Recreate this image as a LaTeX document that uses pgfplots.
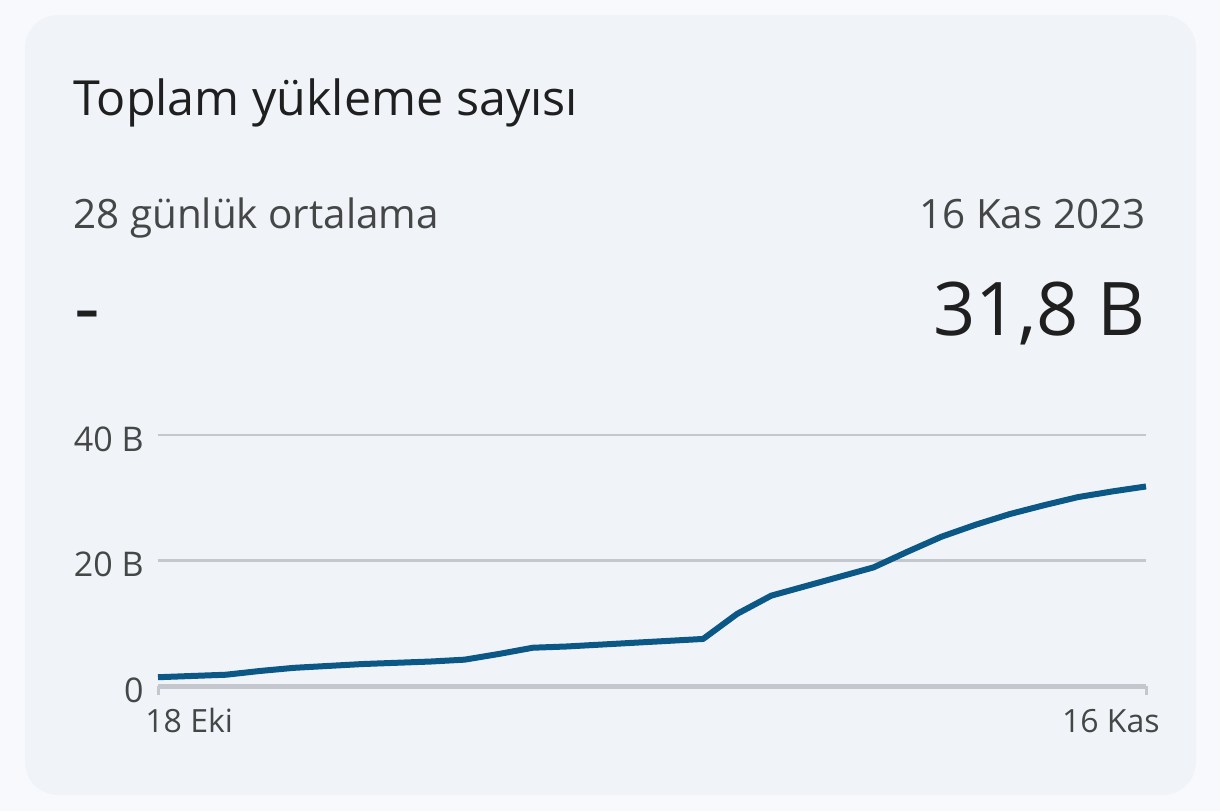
\documentclass[border=0pt]{standalone}
\usepackage{pgfplots}
\pgfplotsset{compat=1.18}
\usepackage{fontspec}
\setmainfont{Open Sans}
\definecolor{outerbg}{HTML}{F8F9FD}
\definecolor{cardbg}{HTML}{F0F4F9}
\definecolor{titlec}{HTML}{1F1F1F}
\definecolor{subc}{HTML}{444746}
\definecolor{gridc}{HTML}{C4C7CE}
\definecolor{linec}{HTML}{0B5785}
\begin{document}
\begin{tikzpicture}[x=1bp,y=1bp]
\fill[outerbg] (0,0) rectangle (610,405.5);
\fill[cardbg, rounded corners=16.5bp] (12.5,8) rectangle (598,398);
\node[anchor=base west, inner sep=0pt, text=titlec] at (36.5,348) {\fontsize{24.2bp}{28bp}\selectfont Toplam yükleme sayısı};
\node[anchor=base west, inner sep=0pt, text=subc] at (36.5,291.5) {\fontsize{20.2bp}{24bp}\selectfont 28 günlük ortalama};
\node[anchor=base east, inner sep=0pt, text=subc] at (573,291.5) {\fontsize{20.2bp}{24bp}\selectfont 16 Kas 2023};
\node[anchor=base west, inner sep=0pt, text=titlec] at (37,238) {\fontsize{40bp}{46bp}\selectfont -};
\node[anchor=base east, inner sep=0pt, text=titlec] at (573,238) {\fontsize{37bp}{44bp}\selectfont 31,8 B};
\begin{axis}[
  at={(79bp,62.5bp)}, anchor=south west,
  scale only axis, width=494bp, height=125.5bp,
  xmin=0, xmax=29, ymin=0, ymax=40,
  axis x line*=bottom, axis y line*=left,
  y axis line style={draw=none},
  x axis line style={line width=2.5bp, color=gridc, -},
  xtick={0,29}, xticklabels={},
  xtick style={line width=1.5bp, color=gridc},
  tick align=outside, major tick length=4.5bp,
  ytick={0,20,40}, yticklabels={0,20 B,40 B},
  ytick style={draw=none},
  yticklabel style={anchor=east, inner sep=0pt, xshift=-2.5bp, yshift=-2bp, text=subc, font=\fontsize{17bp}{20bp}\selectfont},
  ymajorgrids, grid style={line width=1.2bp, color=gridc},
  clip=false,
]
\addplot[line width=3bp, color=linec, line join=round] coordinates {
(0,1.4) (1,1.6) (2,1.8) (3,2.4) (4,2.9) (5,3.2) (6,3.5) (7,3.7) (8,3.9) (9,4.2)
(10,5.1) (11,6.1) (12,6.3) (13,6.6) (14,6.9) (15,7.2) (16,7.5) (17,11.5) (18,14.4)
(19,15.9) (20,17.4) (21,18.9) (22,21.4) (23,23.8) (24,25.7) (25,27.4) (26,28.8)
(27,30.1) (28,31.0) (29,31.8)
};
\node[anchor=base west, inner sep=0pt, text=subc, font=\fontsize{16bp}{19bp}\selectfont] at (axis cs:0,0) [xshift=-6.5bp, yshift=-23bp] {18 Eki};
\node[anchor=base east, inner sep=0pt, text=subc, font=\fontsize{16bp}{19bp}\selectfont] at (axis cs:29,0) [xshift=7bp, yshift=-23bp] {16 Kas};
\end{axis}
\end{tikzpicture}
\end{document}
